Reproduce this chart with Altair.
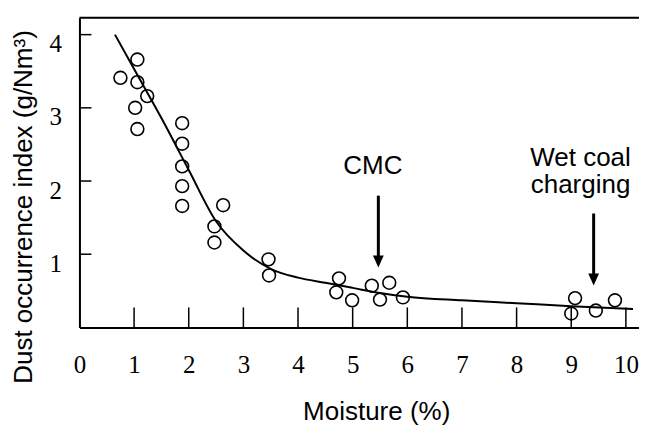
import altair as alt
import pandas as pd

# ---- data ----
moisture = [0.75, 1.06, 1.06, 1.24, 1.02, 1.06, 1.88, 1.88, 1.88, 1.88, 1.88,
            2.63, 2.47, 2.47, 3.46, 3.47, 4.75, 4.70, 4.99, 5.35, 5.50, 5.67,
            5.92, 9.07, 9.00, 9.45, 9.80]
dust = [3.41, 3.66, 3.35, 3.16, 3.00, 2.71, 2.79, 2.51, 2.20, 1.93, 1.66,
        1.67, 1.38, 1.16, 0.93, 0.71, 0.67, 0.48, 0.37, 0.57, 0.38, 0.61,
        0.41, 0.40, 0.19, 0.23, 0.37]

fit_x = [0.65, 1.0, 1.5, 2.0, 2.5, 3.0, 3.5, 4.0, 4.5, 5.0, 5.5, 6.0, 7.0, 8.0, 9.0, 10.13]
fit_y = [4.00, 3.53, 2.86, 2.15, 1.45, 1.05, 0.80, 0.68, 0.61, 0.54, 0.47, 0.42, 0.37, 0.33, 0.29, 0.25]

x_tick_values = [1, 2, 3, 4, 5, 6, 7, 8, 9, 10]
x_label_values = [0, 1, 2, 3, 4, 5, 6, 7, 8, 9, 10]
y_tick_values = [1, 2, 3, 4]

arrow_x = [5.47, 9.41]
arrow_top = [1.80, 1.556]
arrow_tip = [0.82, 0.573]

label_text = ["CMC", "Wet coal", "charging"]
label_x = [5.37, 9.17, 9.17]
label_y = [2.09, 2.20, 1.83]

# ---- layout ----
W, H = 560, 310
XMAX = 10.24
YMAX = 4.232

pts = pd.DataFrame({"x": moisture, "y": dust})
fit = pd.DataFrame({"x": fit_x, "y": fit_y})
xt = pd.DataFrame({"x": x_tick_values})
yt = pd.DataFrame({"y": y_tick_values})
arr = pd.DataFrame({"x": arrow_x, "top": arrow_top, "tip": arrow_tip})
lab = pd.DataFrame({"x": label_x, "y": label_y, "t": label_text})

xs = alt.Scale(domain=[0, XMAX], nice=False, zero=False)
ys = alt.Scale(domain=[0, YMAX], nice=False, zero=False)

x_axis = alt.Axis(
    values=x_label_values, format="d", grid=False, ticks=False, tickSize=0,
    labelFont="Liberation Serif", labelFontSize=25, labelColor="black",
    labelPadding=45, labelBaseline="alphabetic", labelFlush=False, labelOverlap=False,
    domainColor="black", domainWidth=2,
    title="Moisture (%)", titleFont="Liberation Sans", titleFontSize=26,
    titleFontWeight="normal", titleColor="black", titleX=297, titleY=92,
    titleAlign="center", titleBaseline="alphabetic",
)
y_axis = alt.Axis(
    values=y_tick_values, format="d", grid=False, ticks=False, tickSize=0,
    labelFont="Liberation Serif", labelFontSize=25, labelColor="black",
    labelPadding=18, labelBaseline="alphabetic", labelOffset=17, labelFlush=False,
    labelOverlap=False, domainColor="black", domainWidth=2,
    title="Dust occurrence index (g/Nm³)", titleFont="Liberation Sans", titleFontSize=26,
    titleFontWeight="normal", titleColor="black", titleX=-56, titleY=189,
    titleAlign="center", titleBaseline="middle", titleAngle=270,
)

circles = alt.Chart(pts).mark_point(
    shape="circle", filled=False, stroke="black", strokeWidth=1.6, size=165, opacity=1
).encode(
    x=alt.X("x:Q", scale=xs, axis=x_axis),
    y=alt.Y("y:Q", scale=ys, axis=y_axis),
)

curve = alt.Chart(fit).mark_line(color="black", strokeWidth=2, interpolate="monotone").encode(
    x=alt.X("x:Q", scale=xs), y=alt.Y("y:Q", scale=ys)
)

xticks = alt.Chart(xt).mark_rule(color="black", strokeWidth=1.5).encode(
    x=alt.X("x:Q", scale=xs), y=alt.value(H), y2=alt.value(H - 20)
)
yticks = alt.Chart(yt).mark_rule(color="black", strokeWidth=1.5).encode(
    y=alt.Y("y:Q", scale=ys), x=alt.value(0), x2=alt.value(12)
)
top_line = alt.Chart(pd.DataFrame({"a": [0]})).mark_rule(color="black", strokeWidth=2).encode(
    x=alt.value(0), x2=alt.value(W), y=alt.value(0)
)

shafts = alt.Chart(arr).mark_rule(color="black", strokeWidth=3, y2Offset=-6).encode(
    x=alt.X("x:Q", scale=xs), y=alt.Y("top:Q", scale=ys), y2="tip:Q"
)
heads = alt.Chart(arr).mark_point(
    shape="M-0.9,-1L0.9,-1L0,1Z", filled=True, color="black", size=144, opacity=1, yOffset=-6
).encode(x=alt.X("x:Q", scale=xs), y=alt.Y("tip:Q", scale=ys))

labels = alt.Chart(lab).mark_text(
    font="Liberation Sans", fontSize=26, color="black", align="center", baseline="alphabetic"
).encode(x=alt.X("x:Q", scale=xs), y=alt.Y("y:Q", scale=ys), text="t:N")

chart = alt.layer(
    top_line, xticks, yticks, curve, circles, shafts, heads, labels
).properties(
    width=W, height=H,
    autosize=alt.AutoSizeParams(type="none"),
    padding={"left": 71.5, "top": 9.5, "right": 0, "bottom": 98},
).configure_view(stroke=None).configure(background="white")

chart.save("out.html", embed_options={"renderer": "svg", "actions": False})
